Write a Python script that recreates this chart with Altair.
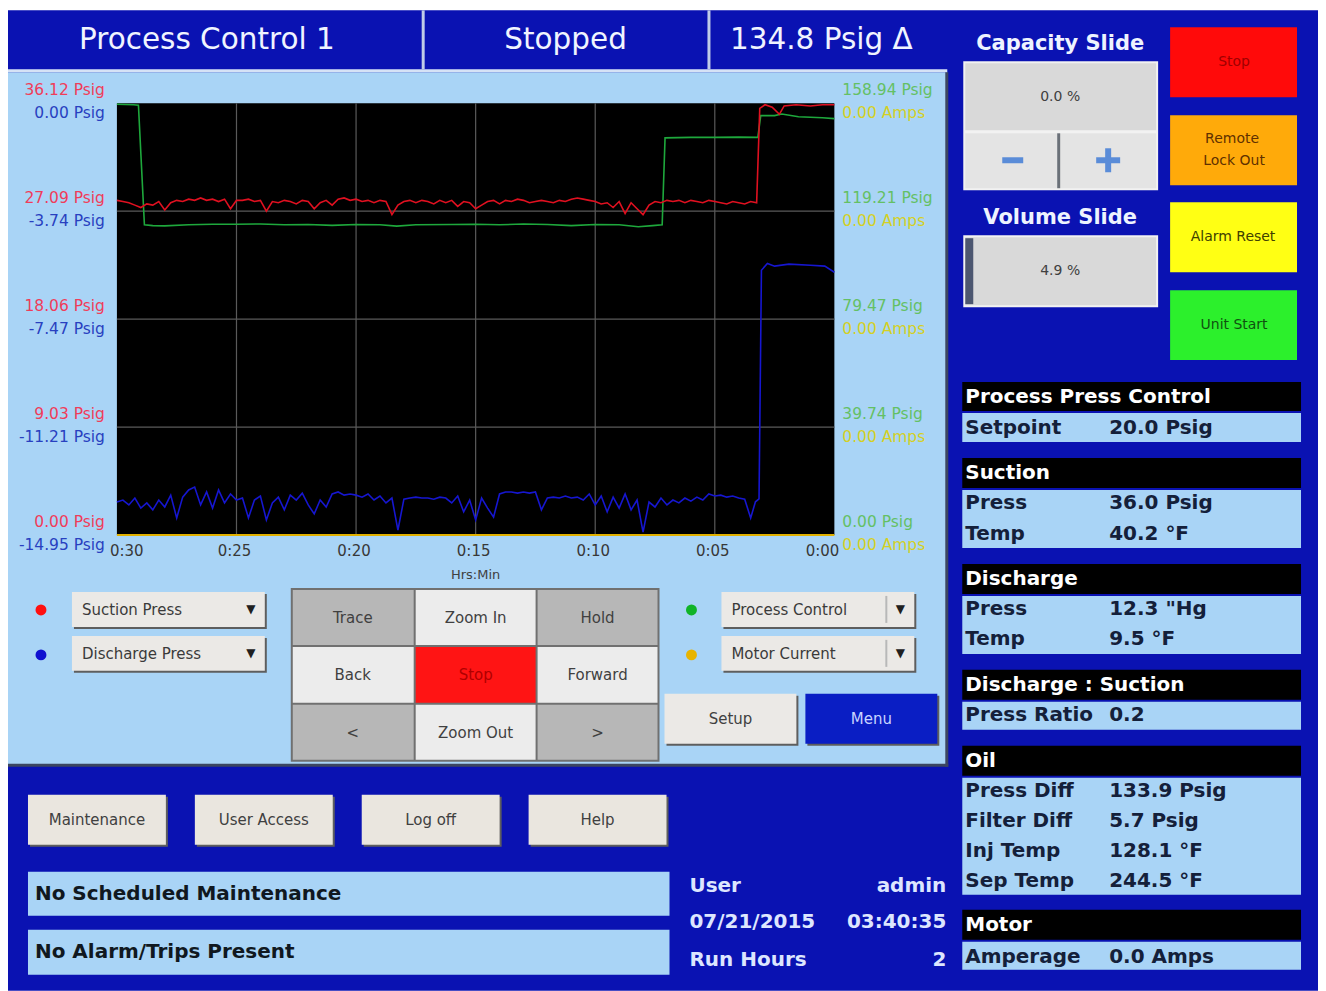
import altair as alt
import pandas as pd

# ---------------- trend data (minutes before now -> value) ----------------
NOISE_STEP = 0.25  # sampling interval of the noisy segment (minutes), t = 30 .. 3.5

SUCTION_NOISY = [28.0, 27.9, 27.8, 27.6, 27.4, 27.7, 27.6, 27.9, 27.2, 27.8,
                 28.0, 27.9, 28.1, 28.0, 28.2, 28.0, 28.1, 27.9, 28.1, 27.3,
                 28.0, 28.0, 28.1, 27.9, 28.0, 27.1, 27.9, 27.8, 28.0, 27.9,
                 27.7, 28.0, 27.9, 27.3, 27.8, 28.0, 27.6, 28.1, 28.2, 28.0,
                 28.1, 27.9, 28.0, 27.8, 28.0, 27.9, 26.8, 27.6, 27.9, 28.0,
                 27.8, 28.0, 27.9, 27.7, 28.0, 27.8, 28.0, 27.5, 27.9, 27.8,
                 27.3, 27.6, 27.9, 28.0, 27.7, 28.0, 27.9, 28.1, 28.0, 27.8,
                 27.9, 28.0, 27.9, 27.8, 28.0, 27.9, 28.1, 28.2, 28.1, 28.0,
                 27.9, 27.7, 27.8, 27.4, 27.9, 26.9, 27.8, 27.3, 26.8, 27.6,
                 27.9, 27.8, 28.0, 27.9, 28.0, 27.8, 28.0, 27.9, 27.8, 28.0,
                 27.9, 27.8, 27.7, 27.9, 27.8, 27.7, 27.9]
SUCTION_TAIL_T = [3.25, 3.12, 2.9, 2.6, 2.3, 2.1, 1.6, 1.0, 0.5, 0.0]
SUCTION_TAIL_V = [27.8, 35.7, 36.0, 35.8, 35.2, 35.9, 36.0, 35.9, 36.0, 36.0]

DISCHARGE_NOISY = [-13.81, -13.74, -13.91, -13.67, -14.02, -13.84, -14.08, -13.74, -13.98, -13.57,
                   -14.36, -13.64, -13.39, -13.29, -13.91, -13.46, -14.02, -13.39, -13.84, -13.53,
                   -13.74, -13.67, -14.36, -13.74, -13.60, -14.43, -13.84, -13.64, -14.08, -13.57,
                   -13.74, -13.50, -13.91, -14.22, -13.74, -13.98, -13.53, -13.46, -13.57, -13.53,
                   -13.57, -13.64, -13.53, -13.74, -13.60, -13.84, -13.67, -14.78, -13.71, -13.67,
                   -13.64, -13.67, -13.67, -13.71, -13.64, -13.67, -13.84, -13.60, -14.15, -13.74,
                   -14.43, -13.67, -14.02, -14.33, -13.53, -13.46, -13.46, -13.50, -13.46, -13.50,
                   -13.46, -14.08, -13.67, -13.64, -13.67, -13.60, -13.67, -13.64, -13.74, -13.53,
                   -13.91, -13.60, -14.15, -13.64, -14.02, -13.53, -14.08, -13.74, -14.85, -13.81,
                   -13.98, -13.67, -13.91, -13.74, -13.84, -13.67, -13.78, -13.64, -13.74, -13.53,
                   -13.60, -13.57, -13.64, -13.60, -13.67, -13.71, -14.36]
DISCHARGE_TAIL_T = [3.3, 3.15, 3.05, 2.8, 2.5, 1.9, 1.0, 0.4, 0.0]
DISCHARGE_TAIL_V = [-13.8, -13.7, -5.78, -5.55, -5.64, -5.57, -5.61, -5.64, -5.85]

PROCESS_T = [30.0, 29.3, 29.1, 28.85, 28.5, 28.0, 27.0, 26.0, 25.0, 24.0,
             23.0, 22.0, 21.0, 20.0, 19.0, 18.3, 17.5, 16.0, 15.0, 14.0,
             13.0, 12.0, 11.0, 10.0, 9.0, 8.2, 7.6, 7.2, 7.08, 6.0,
             5.0, 4.0, 3.2, 3.08, 2.5, 2.2, 1.5, 0.5, 0.0]
PROCESS_V = [158.6, 158.4, 158.2, 114.2, 113.9, 113.8, 114.2, 114.4, 114.4, 114.5,
             114.2, 114.3, 114.0, 114.3, 114.2, 113.7, 114.2, 114.3, 114.4, 114.2,
             114.5, 114.3, 113.9, 114.3, 114.2, 113.5, 113.9, 114.2, 146.2, 146.4,
             146.4, 146.5, 146.4, 154.4, 154.4, 155.0, 154.0, 153.6, 153.3]

MOTOR_T = [30.0, 0.0]
MOTOR_V = [0.0, 0.0]

# axis ticks
TIME_TICKS = [30, 25, 20, 15, 10, 5, 0]
TIME_LABELS = ["0:30", "0:25", "0:20", "0:15", "0:10", "0:05", "0:00"]
SUCTION_TICKS = [36.12, 27.09, 18.06, 9.03, 0.00]
DISCHARGE_TICKS = [0.00, -3.74, -7.47, -11.21, -14.95]
PROCESS_TICKS = [158.94, 119.21, 79.47, 39.74, 0.00]
MOTOR_LABELS = ["0.00 Amps"] * 5

# ---------------- geometry ----------------
W, H = 1311, 981
X0, Y0 = 8, 10
PL, PR, PT, PB = 117, 835, 103, 535
FONT = "DejaVu Sans"


def sx():
    return alt.Scale(domain=[X0, X0 + W], range=[0, W], nice=False, zero=False)


def sy():
    return alt.Scale(domain=[Y0, Y0 + H], range=[0, H], nice=False, zero=False)


def tscale():
    return alt.Scale(domain=[0, 30], range=[PR - X0, PL - X0], nice=False, zero=False)


def vscale(lo, hi):
    return alt.Scale(domain=[lo, hi], range=[PB - Y0, PT - Y0], nice=False, zero=False)


def rects(rows):
    df = pd.DataFrame(rows, columns=["x1", "y1", "x2", "y2", "fill"])
    return alt.Chart(df).mark_rect().encode(
        x=alt.X("x1:Q", scale=sx(), axis=None), x2="x2:Q",
        y=alt.Y("y1:Q", scale=sy(), axis=None), y2="y2:Q",
        color=alt.Color("fill:N", scale=None, legend=None))


def texts(rows, size, color, weight="normal", align="center"):
    df = pd.DataFrame(rows, columns=["x", "y", "text"])
    return alt.Chart(df).mark_text(align=align, baseline="middle", fontSize=size, font=FONT,
                                   fontWeight=weight, color=color).encode(
        x=alt.X("x:Q", scale=sx(), axis=None),
        y=alt.Y("y:Q", scale=sy(), axis=None),
        text="text:N")


def series(t, v, lo, hi, color, width=1.6):
    df = pd.DataFrame({"t": t, "v": v})
    return alt.Chart(df).mark_line(color=color, strokeWidth=width).encode(
        x=alt.X("t:Q", scale=tscale(), axis=None),
        y=alt.Y("v:Q", scale=vscale(lo, hi), axis=None))


layers = []

# background panels
layers.append(rects([
    (8, 10, 1319, 991, "#0a12b2"),
    (8, 72, 948, 766, "#a9d4f6"),
    (8, 69, 948, 72, "#d6e2f6"),
    (422, 10, 425, 69, "#c0cce8"),
    (708, 10, 711, 69, "#c0cce8"),
    (946, 72, 949, 767, "#3c4660"),
    (8, 764, 949, 767, "#3c4660"),
]))

# buttons with shadow
faces = [
    (72, 592, 265, 627, "#ebe9e6"), (72, 636, 265, 671, "#ebe9e6"),
    (722, 592, 915, 627, "#ebe9e6"), (722, 636, 915, 671, "#ebe9e6"),
    (665, 694, 797, 744, "#ebe9e6"), (806, 694, 938, 744, "#0a1ec4"),
    (28, 795, 166, 845, "#eae6df"), (195, 795, 333, 845, "#eae6df"),
    (362, 795, 500, 845, "#eae6df"), (529, 795, 667, 845, "#eae6df"),
]
shadows = [(a + 2, b + 2, c + 2, d + 2, "#5e5e5e") for a, b, c, d, _ in faces]
layers.append(rects(shadows))
layers.append(rects(faces + [
    (886, 596, 888, 623, "#b8b8b8"), (886, 640, 888, 667, "#b8b8b8"),
    # navigation grid
    (291, 588, 660, 762, "#707070"),
    (293, 590, 414, 645, "#b7b7b7"), (416, 590, 536, 645, "#ececec"), (538, 590, 658, 645, "#b7b7b7"),
    (293, 647, 414, 703, "#ececec"), (416, 647, 536, 703, "#ff1414"), (538, 647, 658, 703, "#ececec"),
    (293, 705, 414, 760, "#b7b7b7"), (416, 705, 536, 760, "#ececec"), (538, 705, 658, 760, "#b7b7b7"),
    # info bars
    (28, 872, 670, 916, "#a9d4f6"), (28, 930, 670, 975, "#a9d4f6"),
    # capacity / volume slides
    (964, 61, 1159, 190, "#f2f2f2"), (966, 63, 1157, 130, "#d9d9d9"),
    (966, 133, 1058, 188, "#e4e4e4"), (1061, 133, 1157, 188, "#e4e4e4"),
    (1058, 133, 1061, 188, "#6a7078"),
    (1003, 157, 1024, 163, "#5a8cd8"),
    (1097, 157, 1121, 163, "#5a8cd8"), (1106, 148, 1112, 172, "#5a8cd8"),
    (964, 235, 1159, 307, "#f2f2f2"), (966, 237, 1157, 305, "#d9d9d9"),
    (966, 238, 974, 304, "#4c5670"),
    # command buttons
    (1171, 27, 1298, 97, "#ff0a0a"), (1171, 115, 1298, 185, "#ffaa0a"),
    (1171, 202, 1298, 272, "#ffff14"), (1171, 290, 1298, 360, "#2cf02c"),
    # data tables
    (963, 382, 1302, 411, "#000000"), (963, 413, 1302, 442, "#a9d4f6"),
    (963, 458, 1302, 488, "#000000"), (963, 490, 1302, 548, "#a9d4f6"),
    (963, 564, 1302, 594, "#000000"), (963, 596, 1302, 654, "#a9d4f6"),
    (963, 670, 1302, 700, "#000000"), (963, 702, 1302, 730, "#a9d4f6"),
    (963, 746, 1302, 776, "#000000"), (963, 778, 1302, 895, "#a9d4f6"),
    (963, 910, 1302, 940, "#000000"), (963, 942, 1302, 970, "#a9d4f6"),
]))

# legend dots
dots = pd.DataFrame({"x": [41, 41, 692, 692], "y": [610, 655, 610, 655],
                     "c": ["#ff1010", "#1010d0", "#10b428", "#e8b400"]})
layers.append(alt.Chart(dots).mark_circle(size=120, opacity=1).encode(
    x=alt.X("x:Q", scale=sx(), axis=None), y=alt.Y("y:Q", scale=sy(), axis=None),
    color=alt.Color("c:N", scale=None, legend=None)))

# plot area (black) driven by the time / suction scales
plot_bg = pd.DataFrame({"t1": [30], "t2": [0], "v1": [0.0], "v2": [36.12]})
layers.append(alt.Chart(plot_bg).mark_rect(color="#000000").encode(
    x=alt.X("t1:Q", scale=tscale(), axis=None), x2="t2:Q",
    y=alt.Y("v1:Q", scale=vscale(0, 36.12), axis=None), y2="v2:Q"))

vgrid = pd.DataFrame({"t": TIME_TICKS[1:-1], "lo": 0.0, "hi": 36.12})
layers.append(alt.Chart(vgrid).mark_rule(color="#5a5a5a", strokeWidth=1.2).encode(
    x=alt.X("t:Q", scale=tscale(), axis=None),
    y=alt.Y("lo:Q", scale=vscale(0, 36.12), axis=None), y2="hi:Q"))
hgrid = pd.DataFrame({"v": SUCTION_TICKS[1:-1], "a": 30, "b": 0})
layers.append(alt.Chart(hgrid).mark_rule(color="#5a5a5a", strokeWidth=1.2).encode(
    y=alt.Y("v:Q", scale=vscale(0, 36.12), axis=None),
    x=alt.X("a:Q", scale=tscale(), axis=None), x2="b:Q"))

# series
noisy_t = [30 - NOISE_STEP * i for i in range(len(SUCTION_NOISY))]
layers.append(series(MOTOR_T, MOTOR_V, 0, 1, "#e0b000", 2))
layers.append(series(noisy_t + DISCHARGE_TAIL_T, DISCHARGE_NOISY + DISCHARGE_TAIL_V, -14.95, 0, "#1616d0"))
layers.append(series(PROCESS_T, PROCESS_V, 0, 158.94, "#1ea83c"))
layers.append(series(noisy_t + SUCTION_TAIL_T, SUCTION_NOISY + SUCTION_TAIL_V, 0, 36.12, "#e01020"))


# axis labels driven by scales
def ylabels(vals, labels, lo, hi, color, xpix, align, dy):
    df = pd.DataFrame({"v": vals, "label": labels})
    return alt.Chart(df).mark_text(align=align, baseline="middle", fontSize=15.5, font=FONT,
                                   color=color, dy=dy).encode(
        x=alt.value(xpix - X0),
        y=alt.Y("v:Q", scale=vscale(lo, hi), axis=None),
        text="label:N")


layers.append(ylabels(SUCTION_TICKS, [f"{v:.2f} Psig" for v in SUCTION_TICKS], 0, 36.12,
                      "#f03c5a", 105, "right", -13))
layers.append(ylabels(DISCHARGE_TICKS, [f"{v:.2f} Psig" for v in DISCHARGE_TICKS], -14.95, 0,
                      "#2840c0", 105, "right", 10))
layers.append(ylabels(PROCESS_TICKS, [f"{v:.2f} Psig" for v in PROCESS_TICKS], 0, 158.94,
                      "#64c064", 843, "left", -13))
layers.append(ylabels(PROCESS_TICKS, MOTOR_LABELS, 0, 158.94,
                      "#d4d024", 843, "left", 10))

xl = pd.DataFrame({"t": TIME_TICKS, "label": TIME_LABELS})
for sub, align, dx in [(xl.iloc[:1], "left", -7), (xl.iloc[1:-1], "center", -2), (xl.iloc[-1:], "right", 5)]:
    layers.append(alt.Chart(sub).mark_text(align=align, baseline="middle", fontSize=15, font=FONT,
                                           color="#383838", dx=dx).encode(
        x=alt.X("t:Q", scale=tscale(), axis=None), y=alt.value(551 - Y0), text="label:N"))

# texts
layers.append(texts([(207, 40, "Process Control 1"), (566, 40, "Stopped"), (822, 40, "134.8 Psig Δ")],
                    29.5, "#f0f4ff"))
layers.append(texts([(476, 575, "Hrs:Min")], 13, "#404040"))
layers.append(texts([(82, 610, "Suction Press"), (82, 654, "Discharge Press"),
                     (732, 610, "Process Control"), (732, 654, "Motor Current")],
                    15, "#3a3a3a", align="left"))
layers.append(texts([(251, 609, "▼"), (251, 653, "▼"), (901, 609, "▼"), (901, 653, "▼")], 12, "#202020"))
layers.append(texts([(353, 618, "Trace"), (476, 618, "Zoom In"), (598, 618, "Hold"),
                     (353, 675, "Back"), (598, 675, "Forward"),
                     (353, 733, "<"), (476, 733, "Zoom Out"), (598, 733, ">"),
                     (731, 719, "Setup"),
                     (97, 820, "Maintenance"), (264, 820, "User Access"), (431, 820, "Log off"),
                     (598, 820, "Help")], 15, "#404040"))
layers.append(texts([(476, 675, "Stop")], 15, "#b00000"))
layers.append(texts([(872, 719, "Menu")], 15, "#c8d4ff"))
layers.append(texts([(35, 894, "No Scheduled Maintenance"), (35, 952, "No Alarm/Trips Present")],
                    20, "#101820", weight="bold", align="left"))
layers.append(texts([(690, 886, "User"), (690, 922, "07/21/2015"), (690, 960, "Run Hours")],
                    20, "#dde6ff", weight="bold", align="left"))
layers.append(texts([(947, 886, "admin"), (947, 922, "03:40:35"), (947, 960, "2")],
                    20, "#dde6ff", weight="bold", align="right"))
layers.append(texts([(1061, 44, "Capacity Slide"), (1061, 218, "Volume Slide")],
                    21, "#eef3ff", weight="bold"))
layers.append(texts([(1061, 97, "0.0 %"), (1061, 271, "4.9 %")], 14, "#404040"))
layers.append(texts([(1235, 62, "Stop")], 14, "#a00000"))
layers.append(texts([(1233, 139, "Remote"), (1235, 161, "Lock Out")], 14, "#603000"))
layers.append(texts([(1234, 237, "Alarm Reset")], 14, "#404000"))
layers.append(texts([(1235, 325, "Unit Start")], 14, "#105010"))
layers.append(texts([(966, 397, "Process Press Control"), (966, 473, "Suction"), (966, 579, "Discharge"),
                     (966, 685, "Discharge : Suction"), (966, 761, "Oil"), (966, 925, "Motor")],
                    20, "#ffffff", weight="bold", align="left"))
layers.append(texts([(966, 428, "Setpoint"), (966, 503, "Press"), (966, 534, "Temp"),
                     (966, 609, "Press"), (966, 639, "Temp"), (966, 715, "Press Ratio"),
                     (966, 791, "Press Diff"), (966, 821, "Filter Diff"), (966, 851, "Inj Temp"),
                     (966, 881, "Sep Temp"), (966, 957, "Amperage"),
                     (1110, 428, "20.0 Psig"), (1110, 503, "36.0 Psig"), (1110, 534, "40.2 °F"),
                     (1110, 609, "12.3 \"Hg"), (1110, 639, "9.5 °F"), (1110, 715, "0.2"),
                     (1110, 791, "133.9 Psig"), (1110, 821, "5.7 Psig"), (1110, 851, "128.1 °F"),
                     (1110, 881, "244.5 °F"), (1110, 957, "0.0 Amps")],
                    20, "#14203a", weight="bold", align="left"))

chart = alt.layer(*layers).properties(
    width=W, height=H,
    padding={"left": 0, "top": 2, "right": 0, "bottom": 0},
    autosize=alt.AutoSizeParams(type="none"),
    background="white",
).resolve_scale(x="independent", y="independent", color="independent").configure_view(stroke=None)

chart.save("out.html", embed_options={"renderer": "svg", "actions": False})
